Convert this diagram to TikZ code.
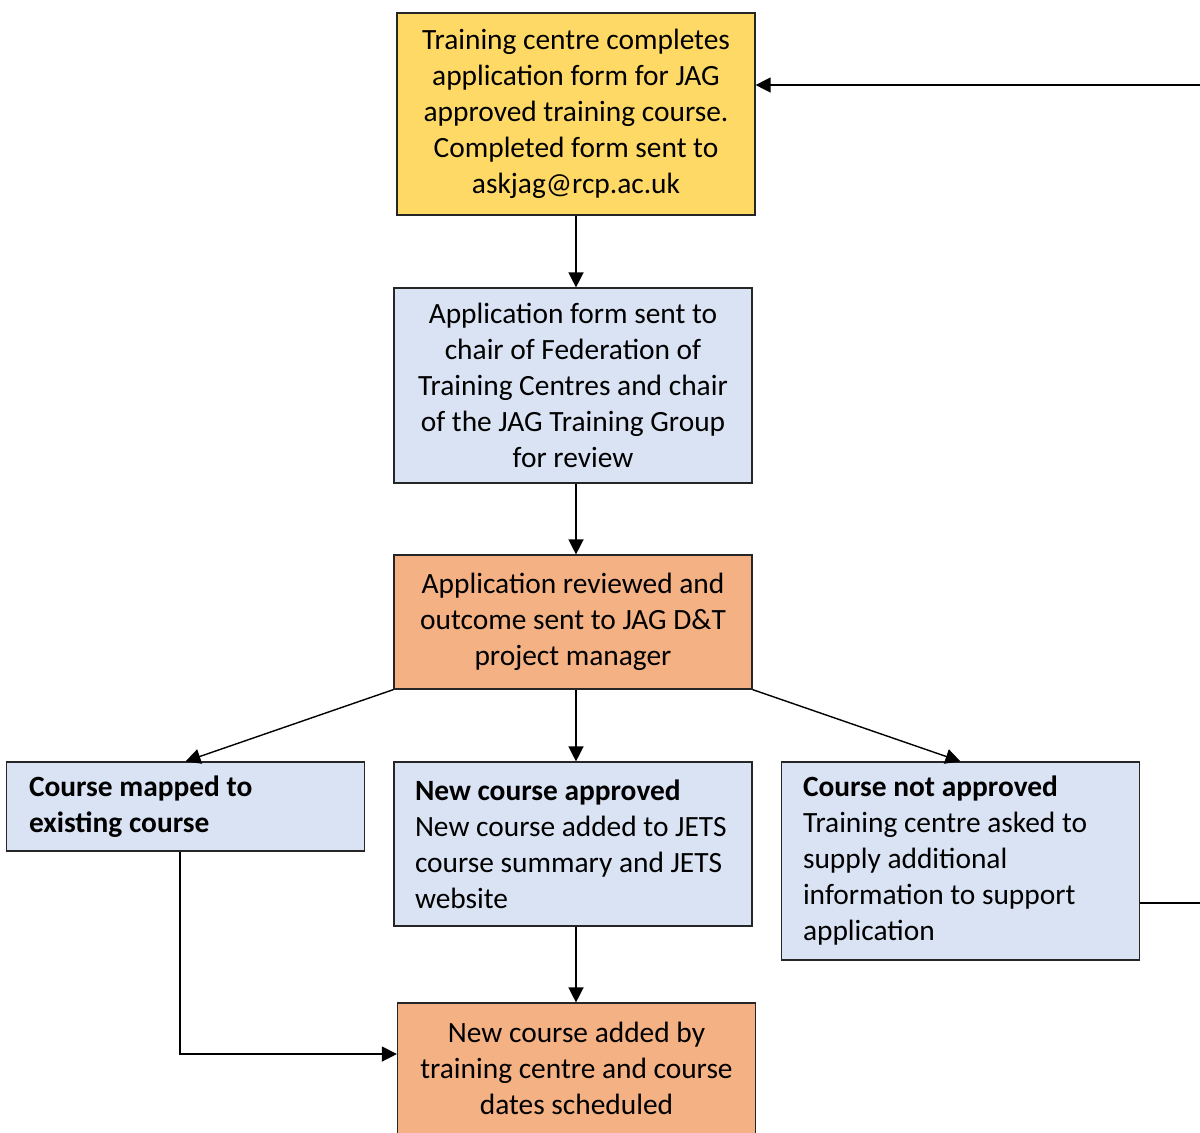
\documentclass[tikz,border=0pt]{standalone}
\usepackage{fontspec}
\setmainfont{Carlito}
\usetikzlibrary{arrows.meta,positioning}
\definecolor{formyellow}{HTML}{FFD966}
\definecolor{stepblue}{HTML}{DAE3F3}
\definecolor{steporange}{HTML}{F4B183}
\tikzset{
  box/.style={draw=black!85,line width=0.6pt,minimum width=179pt,inner sep=0pt,font=\fontsize{14.7}{18}\selectfont,align=center},
  leftbox/.style={box,align=flush left,text width=168pt,inner xsep=5.5pt,execute at begin node={\leftskip=5pt\relax}},
  link/.style={line width=0.7pt,-{Triangle[length=7.5pt,width=7.5pt]}}
}
\begin{document}
\begin{tikzpicture}[x=0.5pt,y=-0.5pt]
\useasboundingbox (0,0) rectangle (1200,1132);
\clip (0,0) rectangle (1200,1132); %bottom box runs off the page
\node[box,fill=formyellow,minimum height=101pt] (form) at (576,114) {Training centre completes\\application form for JAG\\approved training course.\\Completed form sent to\\askjag@rcp.ac.uk};
\node[box,fill=stepblue,minimum height=97.5pt] (chairs) at (573,385.5) {Application form sent to\\chair of Federation of\\Training Centres and chair\\of the JAG Training Group\\for review};
\node[box,fill=steporange,minimum height=67pt] (review) at (573,622) {Application reviewed and\\outcome sent to JAG D\&T\\project manager};
\node[leftbox,fill=stepblue,text width=166.5pt,minimum height=44.5pt] (mapped) at (185.5,806.5) {\bfseries Course mapped to\\\bfseries existing course};
\node[leftbox,fill=stepblue,minimum height=82pt] (approved) at (573,844) {{\bfseries New course approved}\\New course added to JETS\\course summary and JETS\\website};
\node[leftbox,fill=stepblue,text width=167.5pt,minimum height=99pt] (notok) at (960.5,861) {{\bfseries Course not approved}\\Training centre asked to\\supply additional\\information to support\\application};
\node[box,fill=steporange,minimum height=65.5pt] (added) at (576.5,1068.5) {New course added by\\training centre and course\\dates scheduled};
\coordinate (offpage) at (1230,903); %loop back runs outside the page

\draw[link] (form.south) -- (form.south |- chairs.north);
\draw[link] (form.south |- chairs.south) -- (form.south |- review.north);
\draw[link] (review.south west) -- (mapped.north);
\draw[link] (form.south |- review.south) -- (form.south |- approved.north);
\draw[link] (review.south east) -- (notok.north);
\draw[link] (form.south |- approved.south) -- (form.south |- added.north);
\draw[link] ([xshift=-2.75pt]mapped.south) |- ([yshift=7.25pt]added.west);
\draw[link] ([yshift=-21pt]notok.east) -- (offpage) |- ([yshift=14.5pt]form.east);
\end{tikzpicture}
\end{document}
